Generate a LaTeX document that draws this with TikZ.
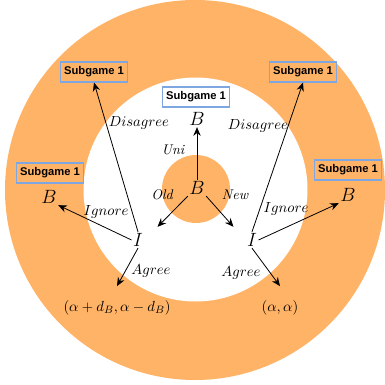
\documentclass[tikz,border=0pt]{standalone}
\usepackage{amsmath,amssymb}
\usepackage{fontspec}
\usepackage{tikz}
\usetikzlibrary{shapes,arrows.meta,positioning,calc}
\usepackage{xcolor}
\newfontfamily\boxfont{Liberation Sans}
\definecolor{ringorange}{HTML}{FFB366}
\definecolor{boxblue}{HTML}{7EA6E0}
\tikzset{
  subbox/.style={draw=boxblue, thick, font=\boxfont\fontsize{8.4}{10}\selectfont\bfseries,
    minimum width=50pt, minimum height=15pt, inner sep=2pt},
  player/.style={font=\fontsize{15}{18}\selectfont, inner sep=1pt},
  payoff/.style={font=\fontsize{11}{13}\selectfont, inner sep=1pt},
  move/.style={-{Stealth[length=6.5pt,width=5.5pt]}, semithick},
  movelab/.style={font=\fontsize{10.5}{12}\selectfont, inner sep=1pt}
}

\begin{document}
\begin{tikzpicture}[x=0.75pt, y=-0.75pt]
    \useasboundingbox (0,0) rectangle (385,385);
    % Rings
    \fill[ringorange] (195,190) circle (190);
    \fill[white] (195.5,189.5) circle (112);
    \fill[ringorange] (196,189) circle (34);

    % Players
    \node[player] (broot) at (197,188) {$B$};
    \node[player] (btop) at (197,119) {$B$};
    \node[player] (ileft) at (138,240) {$I$};
    \node[player] (iright) at (252,240) {$I$};
    \node[player] (bleft) at (49,197) {$B$};
    \node[player] (bright) at (348,195) {$B$};

    % Subgames
    \node[subbox] (subtop) at (196,97) {Subgame 1};
    \node[subbox] (subleft) at (50,173) {Subgame 1};
    \node[subbox] (subright) at (348,170) {Subgame 1};
    \node[subbox] (subtl) at (94,72) {Subgame 1};
    \node[subbox] (subtr) at (303,72) {Subgame 1};

    % Payoffs
    \node[payoff] (payleft) at (117,308) {$(\alpha+d_B,\alpha-d_B)$};
    \node[payoff] (payright) at (280,308) {$(\alpha,\alpha)$};

    % Moves
    \draw[move] (broot.north) -- (btop.south);
    \draw[move] (broot.south west) -- ($(ileft.north east)+(13,-5)$);
    \draw[move] (broot.south east) -- ($(iright.north west)+(-12,-5)$);
    \draw[move] (ileft.north) -- (subtl.south);
    \draw[move] (ileft.west) -- (bleft.south east);
    \draw[move] (ileft.south) -- ($(payleft.north)+(0,-13)$);
    \draw[move] (iright.north) -- (subtr.south);
    \draw[move] (iright.east) -- (bright.south west);
    \draw[move] (iright.south) -- ($(payright.north)+(0,-13)$);

    % Move labels
    \node[movelab] at (173,150) {$\mathit{Uni}$};
    \node[movelab] at (162,195) {$\mathit{Old}$};
    \node[movelab] at (235,195) {$\mathit{New}$};
    \node[movelab] at (139,123) {$Disagree$};
    \node[movelab] at (258,126) {$Disagree$};
    \node[movelab] at (106,212) {$Ignore$};
    \node[movelab] at (286,209) {$Ignore$};
    \node[movelab] at (151,271) {$Agree$};
    \node[movelab] at (241,273) {$Agree$};
\end{tikzpicture}
\end{document}
